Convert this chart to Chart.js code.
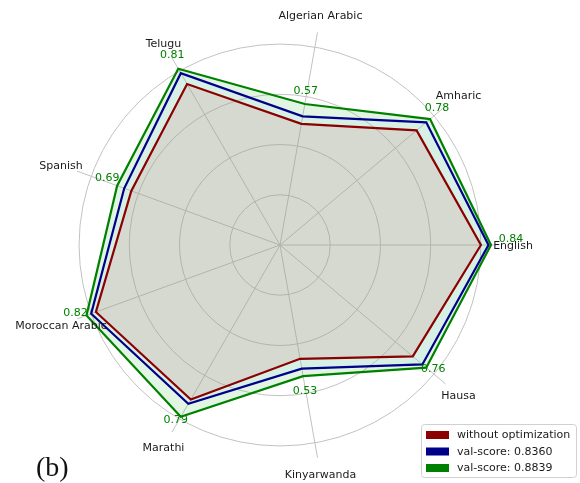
<!DOCTYPE html>
<html>
<head>
<meta charset="utf-8">
<script src="https://cdn.jsdelivr.net/npm/chart.js@4.4.0/dist/chart.umd.min.js"></script>
<style>
  html, body { margin: 0; padding: 0; background: #ffffff; }
  canvas { display: block; }
</style>
</head>
<body>
<canvas id="radar" width="580" height="483"></canvas>
<script>
// Axes, listed clockwise starting from the right-hand (English) spoke.
const categories = ['English', 'Hausa', 'Kinyarwanda', 'Marathi', 'Moroccan Arabic',
                    'Spanish', 'Telugu', 'Algerian Arabic', 'Amharic'];
const seriesNames = ['without optimization', 'val-score: 0.8360', 'val-score: 0.8839'];

// Scores per language for each run.
const withoutOptimization = [0.80, 0.69, 0.46, 0.71, 0.78, 0.63, 0.74, 0.49, 0.71];
const valScore8360        = [0.83, 0.74, 0.50, 0.73, 0.80, 0.66, 0.79, 0.52, 0.76];
const valScore8839        = [0.84, 0.76, 0.53, 0.79, 0.82, 0.69, 0.81, 0.57, 0.78];

// Radial grid rings.
const gridTicks = [0, 0.2, 0.4, 0.6, 0.8];
const radialMax = 0.86;

// ---- layout / styling ----
const CX = 280, CY = 245, R_OUT = 216;   // centre and outer spoke radius (px)
const NAME_RADIUS = 233;                 // distance of the language names
// pixel nudge of each value label from its vertex
const valueLabelOffsets = [[20, -6], [7, 1], [2, 15], [-5, 3], [-11, -2],
                           [-10, -8], [-6, -14], [1, -13], [7, -11]];
const lineColors = ['#8b0000', '#00008b', '#008000'];
const fillColors = ['rgba(214,87,83,0.15)', 'rgba(146,212,253,0.15)', 'rgba(62,188,62,0.15)'];
const FONT = '"DejaVu Sans", "Liberation Sans", sans-serif';

const overlay = {
  id: 'overlay',
  afterDatasetsDraw(chart) {
    const s = chart.scales.r;
    const ctx = chart.ctx;
    ctx.save();
    ctx.font = '11px ' + FONT;
    ctx.textAlign = 'center';
    ctx.textBaseline = 'middle';

    // language names
    ctx.fillStyle = '#1a1a1a';
    categories.forEach((c, i) => {
      const p = s.getPointPosition(i, NAME_RADIUS);
      ctx.fillText(c, p.x, p.y + 1);
    });

    // value labels of the best run
    ctx.fillStyle = '#008000';
    valScore8839.forEach((v, i) => {
      const p = s.getPointPositionForValue(i, v);
      const o = valueLabelOffsets[i];
      ctx.fillText(v.toFixed(2), p.x + o[0], p.y + o[1]);
    });

    // legend box
    const lx = 421.5, ly = 424.5, lw = 155, lh = 53;
    ctx.beginPath();
    ctx.roundRect(lx, ly, lw, lh, 3);
    ctx.fillStyle = 'rgba(255,255,255,0.85)';
    ctx.fill();
    ctx.strokeStyle = '#d0d0d0';
    ctx.lineWidth = 1;
    ctx.stroke();
    ctx.textAlign = 'left';
    chart.data.datasets.forEach((ds, i) => {
      const yc = 435 + i * 16.5;
      ctx.fillStyle = ds.borderColor;
      ctx.fillRect(426, yc - 4, 23, 8);
      ctx.fillStyle = '#1a1a1a';
      ctx.fillText(ds.label, 457, yc + 0.5);
    });

    // panel tag
    ctx.font = '28px "Liberation Serif", "DejaVu Serif", serif';
    ctx.textBaseline = 'alphabetic';
    ctx.fillStyle = '#111111';
    ctx.fillText('(b)', 36, 476);
    ctx.restore();
  }
};

const series = [withoutOptimization, valScore8360, valScore8839];

new Chart(document.getElementById('radar'), {
  type: 'radar',
  data: {
    labels: categories,
    datasets: series.map((vals, i) => ({
      label: seriesNames[i],
      data: vals,
      borderColor: lineColors[i],
      backgroundColor: fillColors[i],
      borderWidth: 2.2,
      borderJoinStyle: 'miter',
      fill: true,
      pointRadius: 0,
      pointHoverRadius: 0,
      tension: 0
    }))
  },
  options: {
    responsive: false,
    devicePixelRatio: 1,
    animation: false,
    events: [],
    plugins: { legend: { display: false }, tooltip: { enabled: false } },
    scales: {
      r: {
        min: 0,
        max: radialMax,
        bounds: 'data',
        startAngle: 90,
        ticks: { display: false },
        grid: { circular: true, color: '#c2c2c2', lineWidth: 1 },
        angleLines: { color: '#c2c2c2', lineWidth: 1 },
        pointLabels: { display: false },
        afterBuildTicks(scale) {
          scale.ticks = gridTicks.map(v => ({ value: v }));
        },
        afterFit(scale) {
          scale.xCenter = CX;
          scale.yCenter = CY;
          scale.drawingArea = R_OUT;
        }
      }
    }
  },
  plugins: [overlay]
});
</script>
</body>
</html>
